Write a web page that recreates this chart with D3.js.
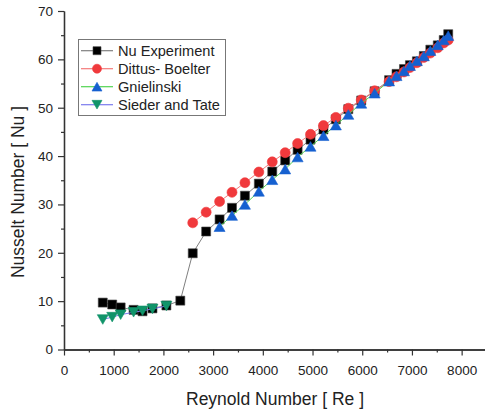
<!DOCTYPE html>
<html>
<head>
<meta charset="utf-8">
<script src="https://cdn.jsdelivr.net/npm/d3@7"></script>
<style>
  body { margin: 0; background: #fff; }
  svg { font-family: "Liberation Sans", Arial, sans-serif; }
</style>
</head>
<body>
<div id="chart"></div>
<script>
// Reynolds numbers of the measured points
var reAll = [780, 970, 1140, 1400, 1580, 1780, 2060, 2340, 2590, 2860, 3130, 3380, 3640, 3920,
  4190, 4450, 4700, 4960, 5220, 5470, 5720, 5980, 6250, 6540, 6690, 6840, 6960, 7100,
  7240, 7370, 7520, 7640, 7730];

// Nu experiment (all points)
var nuExp = [9.7, 9.3, 8.7, 8.2, 7.9, 8.5, 9.1, 10.1, 19.9, 24.4, 26.9, 29.3, 31.8, 34.3,
  36.8, 39.1, 41.3, 43.4, 45.5, 47.6, 49.7, 51.5, 53.4, 55.7, 57.0, 58.0, 58.8, 59.6,
  60.7, 62.0, 62.9, 64.0, 65.2];

// Dittus-Boelter (turbulent, from Re 2590)
var reDittus = reAll.slice(8);
var nuDittus = [26.2, 28.4, 30.6, 32.5, 34.5, 36.7, 38.8, 40.7, 42.6, 44.5, 46.3, 48.0,
  49.9, 51.6, 53.5, 55.4, 56.4, 57.4, 58.3, 59.3, 60.4, 61.3, 62.4, 63.4, 64.0];

// Gnielinski (from Re 3130)
var reGniel = reAll.slice(10);
var nuGniel = [25.4, 27.7, 30.0, 32.7, 35.1, 37.3, 39.8, 42.0, 44.2, 46.4, 48.6, 50.9,
  53.0, 55.5, 56.6, 57.6, 58.7, 59.7, 60.7, 61.8, 63.0, 64.0, 64.9];

// Sieder and Tate (laminar, up to Re 2060)
var reSieder = reAll.slice(0, 7);
var nuSieder = [6.2, 6.7, 7.2, 7.7, 8.0, 8.4, 9.0];

var xTicks = [0, 1000, 2000, 3000, 4000, 5000, 6000, 7000, 8000];
var yTicks = [0, 10, 20, 30, 40, 50, 60, 70];
var seriesNames = ["Nu Experiment", "Dittus- Boelter", "Gnielinski", "Sieder and Tate"];

var W = 485, H = 414;
var svg = d3.select("#chart").append("svg").attr("width", W).attr("height", H);

var x = d3.scaleLinear().domain([0, 8470]).range([64, 485]);
var y = d3.scaleLinear().domain([0, 70]).range([349.5, 11]);

// axes (major + minor ticks)
var axisColor = "#333";
function styleAxis(g) {
  g.select(".domain").attr("stroke", axisColor).attr("stroke-width", 1.3);
  g.selectAll(".tick line").attr("stroke", axisColor).attr("stroke-width", 1.2);
  g.selectAll(".tick text").attr("fill", "#222").style("font-size", "13.5px")
    .style("font-family", "'Liberation Sans', Arial, sans-serif");
}

svg.append("g").attr("transform", "translate(0," + y(0) + ")")
  .call(d3.axisBottom(x).tickValues(d3.range(500, 8470, 1000)).tickSize(3).tickSizeOuter(0).tickFormat(""))
  .call(styleAxis);
svg.append("g").attr("transform", "translate(0," + y(0) + ")")
  .call(d3.axisBottom(x).tickValues(xTicks).tickSize(6).tickSizeOuter(0).tickPadding(10).tickFormat(d3.format("d")))
  .call(styleAxis);

svg.append("g").attr("transform", "translate(" + x(0) + ",0)")
  .call(d3.axisLeft(y).tickValues(d3.range(5, 70, 10)).tickSize(3).tickSizeOuter(0).tickFormat(""))
  .call(styleAxis);
svg.append("g").attr("transform", "translate(" + x(0) + ",0)")
  .call(d3.axisLeft(y).tickValues(yTicks).tickSize(6).tickSizeOuter(0).tickPadding(5).tickFormat(d3.format("d")))
  .call(styleAxis);

// axis titles
svg.append("text").attr("x", 275).attr("y", 405).attr("text-anchor", "middle")
  .style("font-size", "17.5px").attr("fill", "#222").text("Reynold Number [ Re ]");
svg.append("text").attr("transform", "translate(24,192) rotate(-90)").attr("text-anchor", "middle")
  .style("font-size", "17.5px").attr("fill", "#222").text("Nusselt Number [ Nu ]");

// marker shapes
function square(s) { var h = s / 2; return "M" + -h + "," + -h + "h" + s + "v" + s + "h" + -s + "Z"; }
function circle(s) { var r = s / 2; return "M" + -r + ",0a" + r + "," + r + " 0 1,0 " + s + ",0a" + r + "," + r + " 0 1,0 " + -s + ",0Z"; }
function triUp(s) { var h = s * 0.87 / 2; return "M0," + -h + "L" + s / 2 + "," + h + "L" + -s / 2 + "," + h + "Z"; }
function triDown(s) { var h = s * 0.87 / 2; return "M0," + h + "L" + s / 2 + "," + -h + "L" + -s / 2 + "," + -h + "Z"; }

var series = [
  { name: seriesNames[0], re: reAll, nu: nuExp, line: "#7f7f7f", fill: "#000", stroke: "#444", shape: square, size: 9 },
  { name: seriesNames[1], re: reDittus, nu: nuDittus, line: "#f47a7a", fill: "#f0393c", stroke: "#f0393c", shape: circle, size: 10 },
  { name: seriesNames[2], re: reGniel, nu: nuGniel, line: "#52d452", fill: "#1560d0", stroke: "#1560d0", shape: triUp, size: 11 },
  { name: seriesNames[3], re: reSieder, nu: nuSieder, line: "#7b7bee", fill: "#10946a", stroke: "#10946a", shape: triDown, size: 11 }
];

var line = d3.line().x(function (d) { return x(d[0]); }).y(function (d) { return y(d[1]); });

series.forEach(function (s) {
  var pts = s.re.map(function (r, i) { return [r, s.nu[i]]; });
  svg.append("path").attr("d", line(pts)).attr("fill", "none")
    .attr("stroke", s.line).attr("stroke-width", 1);
  svg.append("g").selectAll("path").data(pts).enter().append("path")
    .attr("transform", function (d) { return "translate(" + x(d[0]) + "," + y(d[1]) + ")"; })
    .attr("d", s.shape(s.size)).attr("fill", s.fill).attr("stroke", s.stroke).attr("stroke-width", 0.6);
});

// legend
var lg = svg.append("g");
lg.append("rect").attr("x", 78.5).attr("y", 39.5).attr("width", 147).attr("height", 76)
  .attr("fill", "#fff").attr("stroke", "#777").attr("stroke-width", 1);
series.forEach(function (s, i) {
  var cy = 50.7 + i * 18;
  lg.append("line").attr("x1", 81).attr("x2", 113).attr("y1", cy).attr("y2", cy)
    .attr("stroke", s.line).attr("stroke-width", 1.2);
  lg.append("path").attr("transform", "translate(97," + cy + ")").attr("d", s.shape(s.size - 1))
    .attr("fill", s.fill).attr("stroke", s.stroke).attr("stroke-width", 0.6);
  lg.append("text").attr("x", 118).attr("y", cy + 5).style("font-size", "14.6px")
    .attr("fill", "#222").text(s.name);
});
</script>
</body>
</html>
